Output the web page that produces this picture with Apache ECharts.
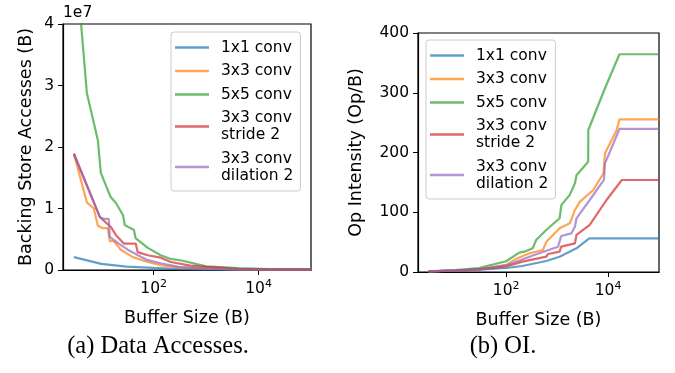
<!DOCTYPE html>
<html>
<head>
<meta charset="utf-8">
<script src="https://cdn.jsdelivr.net/npm/echarts@6/dist/echarts.min.js"></script>
<style>
  html, body { margin: 0; padding: 0; background: #fff; }
  #chart { width: 675px; height: 373px; }
</style>
</head>
<body>
<div id="chart"></div>
<script>
// series names (shared by both panels)
const names = ['1x1 conv', '3x3 conv', '5x5 conv', '3x3 conv\nstride 2', '3x3 conv\ndilation 2']
const colors = ['#1f77b4', '#ff7f0e', '#2ca02c', '#d62728', '#9467bd']

// (a) backing store accesses (B) vs buffer size (B)
const acc1x1X = [3, 10, 30, 100, 300, 1000, 5000, 100000]
const acc1x1Y = [2.1e6, 1.0e6, 0.55e6, 0.33e6, 0.15e6, 0.07e6, 0.02e6, 0.01e6]
const acc3x3X = [3, 5.3, 7.2, 8.6, 10.7, 13.3, 14.5, 17.3, 23.5, 40, 77, 136, 300, 1000, 4000, 16000, 100000]
const acc3x3Y = [1.89e7, 1.1e7, 1.0e7, 0.72e7, 0.68e7, 0.68e7, 0.47e7, 0.47e7, 0.33e7, 0.21e7, 0.13e7, 0.08e7, 0.04e7, 0.02e7, 0.008e7, 0.006e7, 0.006e7]
const acc5x5X = [3, 5.3, 8.6, 9.8, 15, 19, 26, 28, 42, 45, 77, 136, 210, 356, 1000, 4000, 16000, 100000]
const acc5x5Y = [5.4e7, 2.88e7, 2.11e7, 1.58e7, 1.19e7, 1.09e7, 0.89e7, 0.73e7, 0.65e7, 0.52e7, 0.36e7, 0.24e7, 0.18e7, 0.15e7, 0.06e7, 0.03e7, 0.015e7, 0.015e7]
const accStrideX = [3, 9.4, 15.2, 18.9, 26.9, 45.4, 49.5, 77, 136, 211, 500, 1000, 4000, 16000, 100000]
const accStrideY = [1.89e7, 0.86e7, 0.7e7, 0.57e7, 0.43e7, 0.43e7, 0.29e7, 0.24e7, 0.2e7, 0.13e7, 0.07e7, 0.05e7, 0.02e7, 0.01e7, 0.01e7]
const accDilX = [3, 9.4, 11.2, 13.9, 14.5, 20.6, 32, 50, 77, 136, 300, 1000, 4000, 16000, 100000]
const accDilY = [1.89e7, 0.86e7, 0.83e7, 0.83e7, 0.54e7, 0.44e7, 0.33e7, 0.24e7, 0.16e7, 0.11e7, 0.05e7, 0.025e7, 0.01e7, 0.008e7, 0.008e7]

// (b) op intensity (Op/B) vs buffer size (B)
const oi1x1X = [3, 10, 30, 100, 207, 612, 1120, 2400, 4270, 100000]
const oi1x1Y = [1, 2.5, 4, 6.7, 10, 18.4, 25.6, 39.6, 56.4, 56.4]
const oi3x3X = [3, 10, 30, 100, 166, 288, 525, 617, 1122, 1778, 2239, 2818, 5129, 8128, 8710, 14791, 16750, 100000]
const oi3x3Y = [1, 2.5, 5, 12, 22.9, 31.3, 36.8, 50.7, 73.1, 81.5, 103.8, 117.7, 137.3, 165.2, 198.7, 237.7, 255.6, 255.6]
const oi5x5X = [3, 10, 29, 100, 181, 227, 331, 388, 612, 1120, 1210, 1770, 2240, 2400, 4070, 4100, 8700, 16750, 100000]
const oi5x5Y = [1, 3, 6.7, 18, 32.3, 34, 39.6, 53.6, 70.3, 89.9, 112, 129, 148.5, 162, 184.6, 237.7, 307.5, 364.4, 364.4]
const oiStrideX = [3, 10, 30, 100, 209, 617, 661, 1122, 1202, 2239, 2399, 4365, 9333, 18620, 100000]
const oiStrideY = [1, 2.2, 4.5, 9.5, 17.3, 25.7, 30.1, 34, 42.4, 48, 62, 78.7, 120.5, 154, 154]
const oiDilX = [3, 10, 30, 100, 355, 617, 1047, 1122, 1202, 1905, 2239, 2399, 4365, 8300, 8710, 16750, 100000]
const oiDilY = [1, 2.3, 4.5, 11, 28.5, 35.7, 42.4, 45.2, 60.3, 64.7, 75.8, 89.9, 120.5, 154, 181.9, 239.4, 239.4]

const xTicks = [100, 10000]
const accTicks = [0, 1e7, 2e7, 3e7, 4e7]
const oiTicks = [0, 100, 200, 300, 400]

const accX = [acc1x1X, acc3x3X, acc5x5X, accStrideX, accDilX]
const accY = [acc1x1Y, acc3x3Y, acc5x5Y, accStrideY, accDilY]
const oiX = [oi1x1X, oi3x3X, oi5x5X, oiStrideX, oiDilX]
const oiY = [oi1x1Y, oi3x3Y, oi5x5Y, oiStrideY, oiDilY]

const FONT = 'DejaVu Sans'
const zip = (xs, ys) => xs.map((x, i) => [x, ys[i]])

function xAxisFor(gridIndex) {
  return {
    type: 'log', gridIndex, min: 1.86, max: 100000,
    name: 'Buffer Size (B)', nameLocation: 'middle', nameGap: 39,
    nameTextStyle: { fontFamily: FONT, fontSize: 17.5, color: '#000' },
    axisLine: { show: true, lineStyle: { color: '#000', width: 1.2 } },
    axisTick: { show: true, length: 5, lineStyle: { color: '#000' }, customValues: xTicks },
    minorTick: { show: false },
    splitLine: { show: false },
    axisLabel: {
      customValues: xTicks, margin: 9, color: '#000',
      formatter: v => '{b|10}{s|' + Math.round(Math.log10(v)) + '}',
      rich: {
        b: { fontFamily: FONT, fontSize: 15.5, color: '#000' },
        s: { fontFamily: FONT, fontSize: 11, color: '#000', padding: [0, 0, 8, 0] }
      }
    }
  }
}

function yAxisFor(gridIndex, ticks, name, nameGap, fmt) {
  return {
    type: 'value', gridIndex, min: ticks[0], max: ticks[ticks.length - 1], interval: ticks[1] - ticks[0],
    name, nameLocation: 'middle', nameGap,
    nameTextStyle: { fontFamily: FONT, fontSize: 17.5, color: '#000' },
    axisLine: { show: true, lineStyle: { color: '#000', width: 1.2 } },
    axisTick: { show: true, length: 5, lineStyle: { color: '#000' } },
    splitLine: { show: false },
    axisLabel: { fontFamily: FONT, fontSize: 15.5, color: '#000', margin: 9, formatter: fmt }
  }
}

function legendAt(left, top) {
  return {
    orient: 'vertical', left, top, data: names,
    icon: 'rect', itemWidth: 34, itemHeight: 2.6, itemGap: 6.5,
    itemStyle: { opacity: 0.7 },
    padding: [7, 7, 7, 4],
    backgroundColor: 'rgba(255,255,255,0.8)', borderColor: '#cccccc', borderWidth: 1, borderRadius: 3,
    textStyle: { fontFamily: FONT, fontSize: 15.5, lineHeight: 17, color: '#000', padding: [0, 0, 0, 7] }
  }
}

const series = []
names.forEach((name, i) => {
  series.push({
    name, type: 'line', xAxisIndex: 0, yAxisIndex: 0, data: zip(accX[i], accY[i]),
    symbol: 'none', color: colors[i], lineStyle: { width: 2.2, opacity: 0.7 }, animation: false
  })
})
names.forEach((name, i) => {
  series.push({
    name, type: 'line', xAxisIndex: 1, yAxisIndex: 1, data: zip(oiX[i], oiY[i]),
    symbol: 'none', color: colors[i], lineStyle: { width: 2.2, opacity: 0.7 }, animation: false
  })
})

const chart = echarts.init(document.getElementById('chart'))
chart.setOption({
  backgroundColor: '#fff',
  animation: false,
  grid: [
    { left: 63, top: 24, width: 248, height: 246, show: true, borderColor: '#000', borderWidth: 1.2, backgroundColor: 'transparent' },
    { left: 418, top: 33, width: 241, height: 239, show: true, borderColor: '#000', borderWidth: 1.2, backgroundColor: 'transparent' }
  ],
  xAxis: [xAxisFor(0), xAxisFor(1)],
  yAxis: [
    yAxisFor(0, accTicks, 'Backing Store Accesses (B)', 28, v => String(v / 1e7)),
    yAxisFor(1, oiTicks, 'Op Intensity (Op/B)', 53, v => String(v))
  ],
  legend: [legendAt(171, 32), legendAt(426, 40)],
  series,
  graphic: [
    { type: 'text', left: 63, top: 5, style: { text: '1e7', font: '15.5px "DejaVu Sans"', fill: '#000' } },
    { type: 'text', x: 158, y: 347, style: { text: '(a) Data Accesses.', font: '24.5px "Liberation Serif"', fill: '#000', align: 'center', verticalAlign: 'middle' } },
    { type: 'text', x: 503, y: 347, style: { text: '(b) OI.', font: '24.5px "Liberation Serif"', fill: '#000', align: 'center', verticalAlign: 'middle' } }
  ]
})
</script>
</body>
</html>
